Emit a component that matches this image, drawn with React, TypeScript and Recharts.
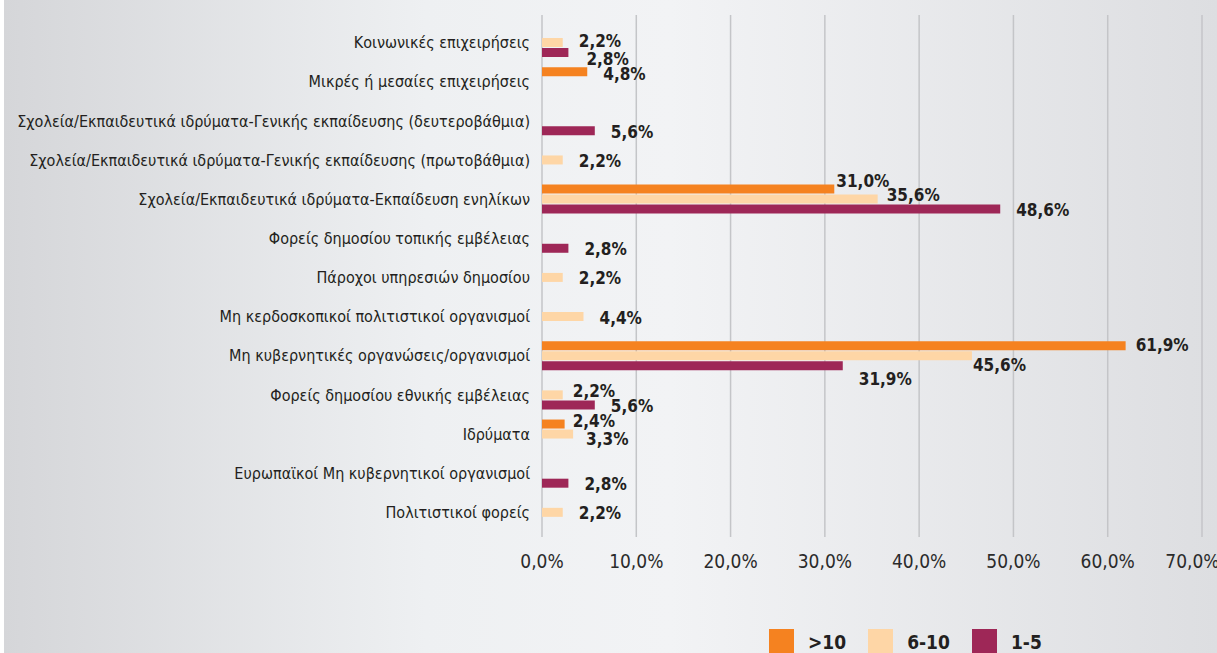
import React from 'react';
import {
  BarChart, Bar, XAxis, YAxis, CartesianGrid, LabelList
} from 'recharts';

const categories = [
  'Κοινωνικές επιχειρήσεις',
  'Μικρές ή μεσαίες επιχειρήσεις',
  'Σχολεία/Εκπαιδευτικά ιδρύματα-Γενικής εκπαίδευσης (δευτεροβάθμια)',
  'Σχολεία/Εκπαιδευτικά ιδρύματα-Γενικής εκπαίδευσης (πρωτοβάθμια)',
  'Σχολεία/Εκπαιδευτικά ιδρύματα-Εκπαίδευση ενηλίκων',
  'Φορείς δημοσίου τοπικής εμβέλειας',
  'Πάροχοι υπηρεσιών δημοσίου',
  'Μη κερδοσκοπικοί πολιτιστικοί οργανισμοί',
  'Μη κυβερνητικές οργανώσεις/οργανισμοί',
  'Φορείς δημοσίου εθνικής εμβέλειας',
  'Ιδρύματα',
  'Ευρωπαϊκοί Μη κυβερνητικοί οργανισμοί',
  'Πολιτιστικοί φορείς',
];

// null = no bar for that group
const over10 = [null, 4.8, null, null, 31.0, null, null, null, 61.9, null, 2.4, null, null];
const from6to10 = [2.2, null, null, 2.2, 35.6, null, 2.2, 4.4, 45.6, 2.2, 3.3, null, 2.2];
const from1to5 = [2.8, null, 5.6, null, 48.6, 2.8, null, null, 31.9, 5.6, null, 2.8, null];

const xTicks = [0, 10, 20, 30, 40, 50, 60, 70];

const series = [
  { key: 'over10', name: '>10', color: '#f58220' },
  { key: 'from6to10', name: '6-10', color: '#fed6a6' },
  { key: 'from1to5', name: '1-5', color: '#9e2757' },
];

// hand-moved labels in the original, [dx, dy] keyed by series:row
const labelNudge: Record<string, [number, number]> = {
  'from6to10:0': [0, -3],
  'from1to5:0': [2, 5],
  'over10:1': [0, 1],
  'over10:4': [-14, -9],
  'from6to10:4': [-7, -5],
  'over10:8': [-6, -2],
  'from6to10:8': [-15, 8],
  'from1to5:8': [0, 12],
  'from6to10:9': [-6, -5],
  'over10:10': [-8, -4],
  'from6to10:10': [-3, 4],
};

const data = categories.map((name, i) => ({
  name,
  over10: over10[i],
  from6to10: from6to10[i],
  from1to5: from1to5[i],
}));

const pct = (v: number) => v.toFixed(1).replace('.', ',') + '%';
const FONT = '"DejaVu Sans Condensed", "DejaVu Sans", sans-serif';

// label value carries "row|value" so the nudge can be looked up by row
const labelKey = (seriesKey: string) => (d: any) =>
  d[seriesKey] == null ? null : `${categories.indexOf(d.name)}|${d[seriesKey]}`;

const makeLabel = (seriesKey: string) => (props: any) => {
  const { x, y, width, height, value } = props;
  if (value == null) return null;
  const [row, num] = String(value).split('|');
  const [dx, dy] = labelNudge[`${seriesKey}:${row}`] || [0, 0];
  return (
    <text
      x={x + width + 16 + dx}
      y={y + height / 2 + 2 + dy}
      fill="#231f20"
      fontFamily={FONT}
      fontWeight="bold"
      fontSize={17}
      dominantBaseline="middle"
    >
      {pct(Number(num))}
    </text>
  );
};

const GridLine = (props: any) => {
  const { x1, x2, y1, y2 } = props;
  return <line x1={x1} x2={x2} y1={y1 - 8} y2={y2 + 5} stroke="#c4c5c8" strokeWidth={1.5} />;
};

export default function App() {
  return (
    <div
      style={{
        position: 'absolute', left: 0, top: 0, width: 1217, height: 653, overflow: 'hidden',
        background: 'linear-gradient(to right, #ffffff 0px, #ffffff 4px, #d5d6d9 4px, #eef0f2 35%, #f2f3f5 55%, #dddee1 100%)',
      }}
    >
      <BarChart
        layout="vertical"
        width={1217}
        height={653}
        data={data}
        margin={{ top: 23, right: 15, bottom: 81, left: 0 }}
        barSize={9}
        barGap={1}
      >
        <CartesianGrid horizontal={false} vertical={GridLine} />
        <XAxis
          type="number"
          domain={[0, 70]}
          ticks={xTicks}
          tickFormatter={pct}
          axisLine={false}
          tickLine={false}
          height={40}
          tickMargin={17}
          tick={{ fill: '#2b2b2b', fontSize: 19, fontFamily: FONT }}
        />
        <YAxis
          type="category"
          dataKey="name"
          width={542}
          axisLine={false}
          tickLine={false}
          tickMargin={6}
          interval={0}
          tick={{ fill: '#231f20', fontSize: 16, fontFamily: FONT }}
        />
        {series.map((s) => (
          <Bar key={s.key} dataKey={s.key} name={s.name} fill={s.color} isAnimationActive={false}>
            <LabelList dataKey={labelKey(s.key)} content={makeLabel(s.key)} />
          </Bar>
        ))}
      </BarChart>
      <div style={{ position: 'absolute', left: 769, top: 629, display: 'flex', alignItems: 'flex-start', fontFamily: FONT }}>
        {series.map((s) => (
          <div key={s.key} style={{ display: 'flex', alignItems: 'center', marginRight: 22 }}>
            <div style={{ width: 25, height: 25, background: s.color, marginRight: 14 }} />
            <span style={{ fontWeight: 'bold', fontSize: 19, color: '#231f20' }}>{s.name}</span>
          </div>
        ))}
      </div>
    </div>
  );
}
